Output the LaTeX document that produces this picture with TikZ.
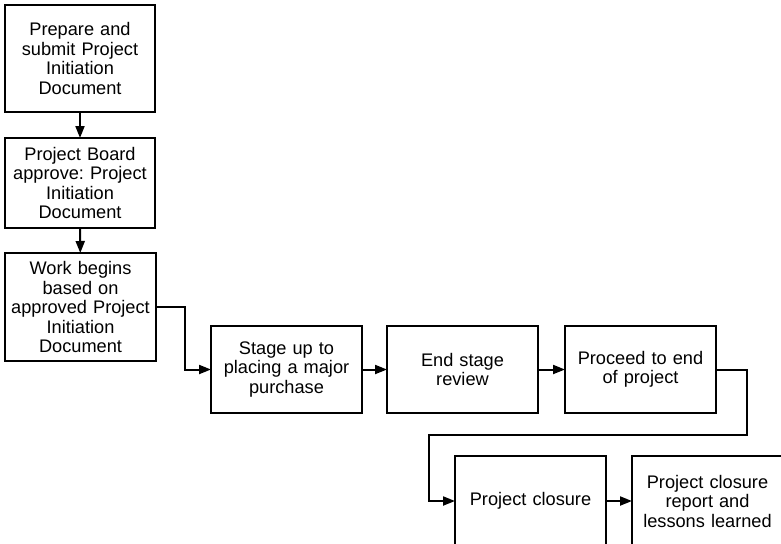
\documentclass[tikz,border=0pt]{standalone}
\usepackage{fontspec}
\setmainfont{Liberation Sans}
\usetikzlibrary{arrows.meta}
\frenchspacing
\tikzset{
  box/.style={draw, line width=2pt, inner sep=0pt, outer sep=0pt, align=center,
    font=\fontsize{18.2}{19.5}\selectfont, text width=148pt},
  conn/.style={line width=2pt, -{Triangle[length=12pt,width=9pt]}}
}
\begin{document}
\begin{tikzpicture}[x=1pt,y=-1pt]
\useasboundingbox (0,0) rectangle (781,543);
\clip (0,0) rectangle (781,543);
\node[box, minimum width=150pt, minimum height=107pt] (b1) at (80,58.5) {Prepare and\\submit Project\\Initiation\\Document};
\node[box, minimum width=150pt, minimum height=90pt] (b2) at (80,183) {Project Board\\approve: Project\\Initiation\\Document};
\node[box, minimum width=151pt, minimum height=108pt] (b3) at (80.5,307) {Work begins\\based on\\approved Project\\Initiation\\Document};
\node[box, minimum width=151pt, minimum height=87pt] (b4) at (286.5,369.5) {Stage up to\\placing a major\\purchase};
\node[box, minimum width=151pt, minimum height=87pt] (b5) at (462.5,369.5) {End stage\\review};
\node[box, minimum width=151pt, minimum height=87pt] (b6) at (640.5,369.5) {Proceed to end\\of project};
\node[box, minimum width=151pt, minimum height=90pt] (b7) at (530.5,501) {Project closure};
\node[box, minimum width=151pt, minimum height=90pt] (b8) at (707.5,501) {Project closure\\report and\\lessons learned};
\coordinate (c1) at (185,307);
\coordinate (c2) at (747,369.5);
\coordinate (c3) at (429,435);
\draw[conn] (b1) -- (b2);
\draw[conn] (b2) -- (b3);
\draw[conn] (b3.east) -| (c1) |- (b4.west);
\draw[conn] (b4) -- (b5);
\draw[conn] (b5) -- (b6);
\draw[conn] (b6.east) -- (c2) |- (c3) |- (b7.west);
\draw[conn] (b7) -- (b8);
\end{tikzpicture}
\end{document}
